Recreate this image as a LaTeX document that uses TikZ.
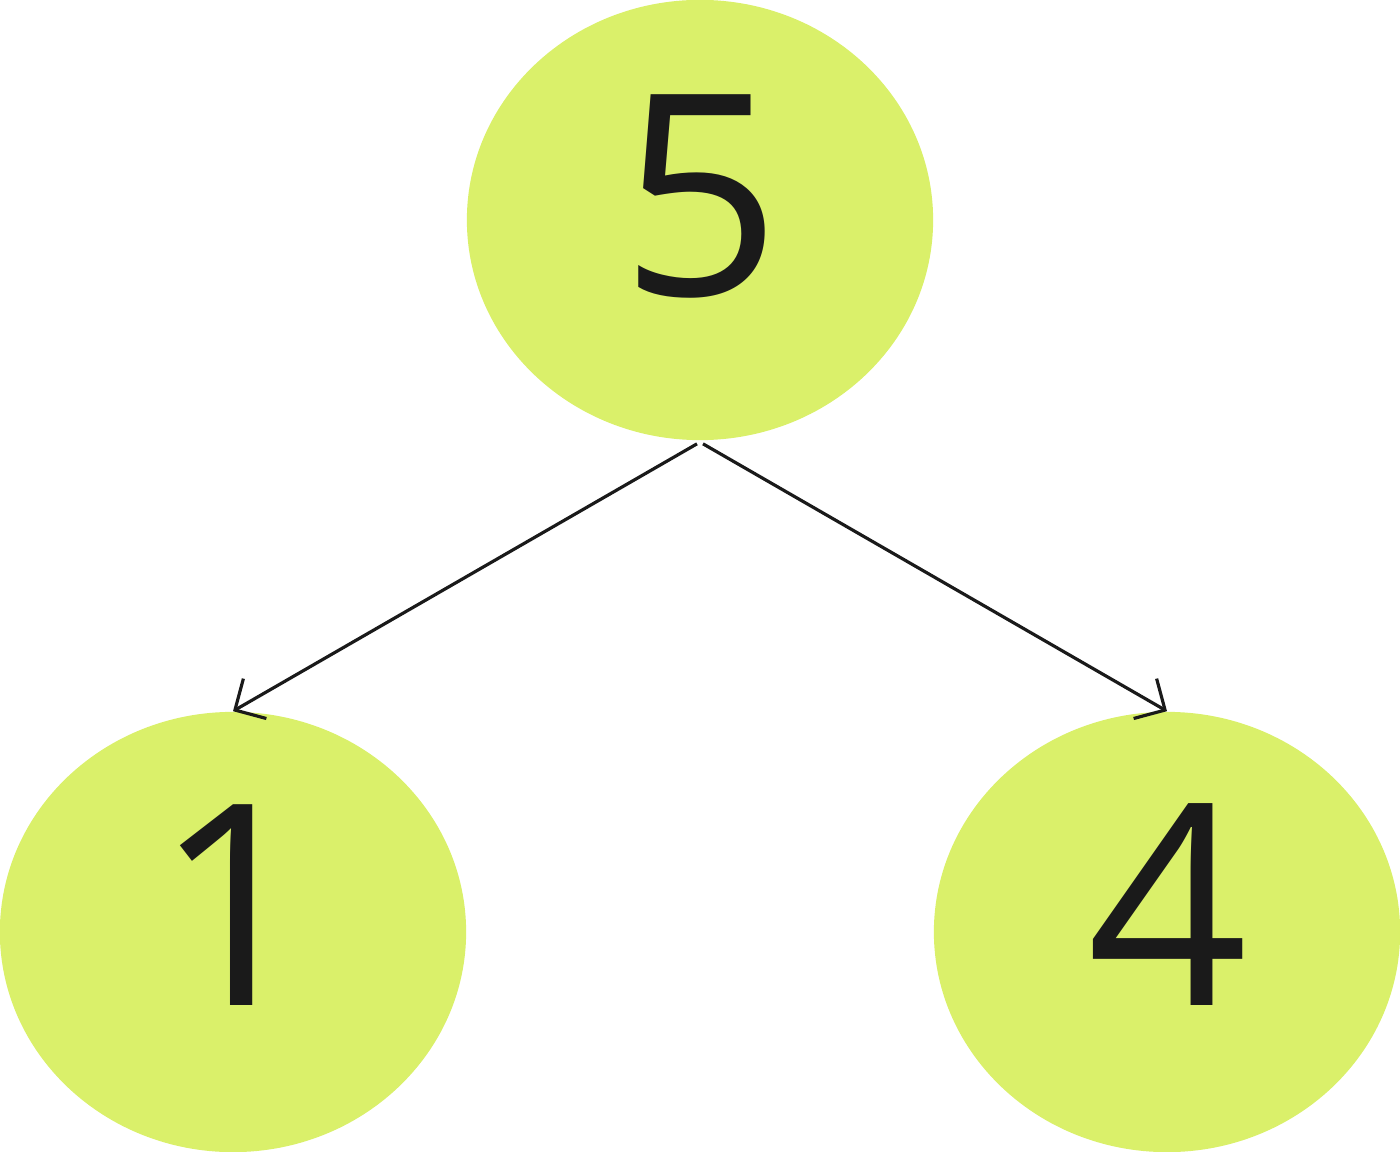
\documentclass[tikz,border=0pt]{standalone}
\usepackage{fontspec}
\setmainfont{Open Sans}
\usetikzlibrary{shapes.geometric,arrows.meta}
\definecolor{lime}{HTML}{DAF06A}
\definecolor{ink}{HTML}{1A1A1A}
\tikzset{
  bubble/.style={ellipse, fill=lime, draw=none, minimum width=4.66cm, minimum height=4.4cm, inner sep=0pt},
  digit/.style={anchor=base, text=ink, inner sep=0pt, font=\fontsize{80}{80}\selectfont},
  link/.style={draw=ink, line width=0.9pt, -{Straight Barb[length=0.23cm, width=0.46cm, line width=0.9pt]}}
}
\begin{document}
\begin{tikzpicture}[x=0.01cm, y=-0.01cm]
  \useasboundingbox (0,0) rectangle (1400,1152);
  \node[bubble] (top) at (700,220) {};
  \node[bubble] (left) at (233,932) {};
  \node[bubble] (right) at (1167,932) {};
  \node[digit] (t5) at (701,296) {5};
  \node[digit] (t1) at (235,1005) {1};
  \node[digit] (t4) at (1168,1005) {4};
  \draw[link] ([xshift=-0.03cm,yshift=-0.03cm]top.south) -- (left.north);
  \draw[link] ([xshift=0.03cm,yshift=-0.03cm]top.south) -- (right.north);
\end{tikzpicture}
\end{document}
